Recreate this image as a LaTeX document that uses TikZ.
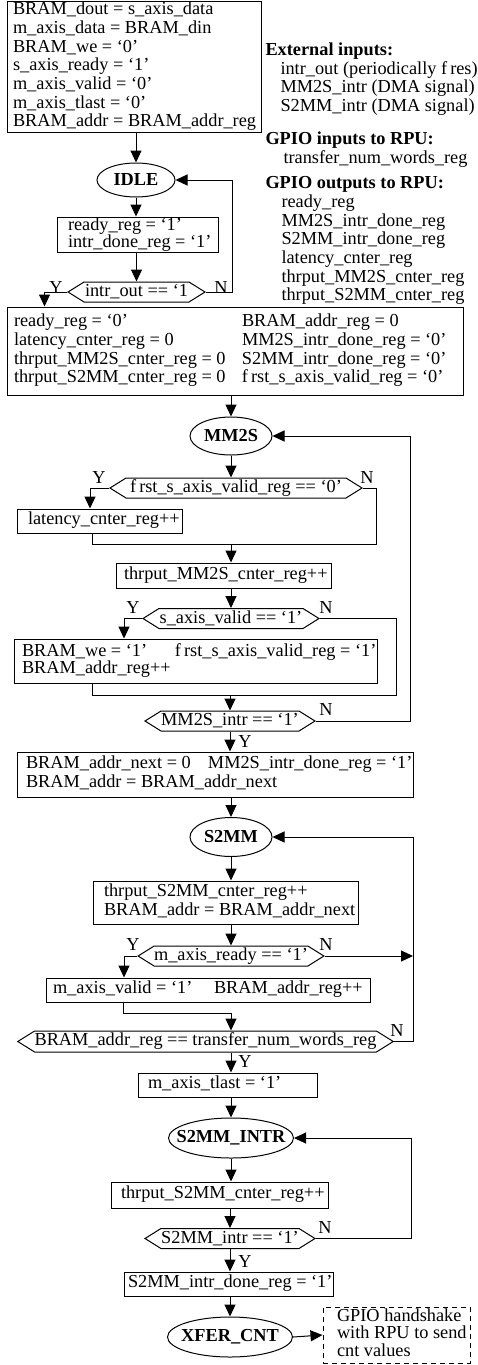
\documentclass[tikz,border=0pt]{standalone}
\usepackage{fontspec}
\setmainfont{Liberation Serif}
\usepackage{tikz}
\usetikzlibrary{arrows.meta,shapes.geometric,shapes.symbols}

\newcommand{\boxlines}[2]{\makebox[#1][l]{\begin{tabular}{@{}l@{}}#2\end{tabular}}}

\begin{document}
\begin{tikzpicture}[x=1pt,y=-1pt,line width=1pt,
  font=\fontsize{18.3}{18.7}\selectfont,
  sbox/.style={draw,rectangle,inner ysep=0pt},
  stbox/.style={draw,ellipse,inner sep=0pt,font=\fontsize{18.3}{18.7}\selectfont\bfseries},
  cond/.style={draw,signal,signal to=west and east,signal pointer angle=64,inner xsep=0pt,inner ysep=0pt,minimum height=20pt},
  arr/.style={-{Triangle[width=11pt,length=12pt]}},
  lbl/.style={anchor=base,inner sep=0pt}]
\useasboundingbox (0,0) rectangle (478,1365);

%%Init and IDLE
\node[sbox,inner xsep=6pt,minimum height=130pt] (init) at (134,67) {\boxlines{242pt}{BRAM\_dout = s\_axis\_data\\ m\_axis\_data = BRAM\_din\\ BRAM\_we = `0'\\ s\_axis\_ready = `1'\\ m\_axis\_valid = `0'\\ m\_axis\_tlast = `0'\\ BRAM\_addr = BRAM\_addr\_reg}};
\node[stbox,minimum width=78pt,minimum height=34pt] (idle) at (136,180) {\makebox[0pt]{IDLE}};
\node[sbox,inner xsep=11pt,minimum height=32pt] (ready) at (137.5,235) {\boxlines{139pt}{ready\_reg = `1'\\[-1.5pt] intr\_done\_reg = `1'}};
\node[cond,minimum width=137pt] (intr) at (136.5,292) {intr\_out == `1};

%%Signals
\node[anchor=north west,inner sep=0pt] (legend) at (265,42) {\begin{tabular}{@{}l@{}}
\textbf{External inputs:}\\
\hspace{15pt}intr\_out (periodically f\,res)\\
\hspace{15pt}MM2S\_intr (DMA signal)\\
\hspace{15pt}S2MM\_intr (DMA signal)\\[14.5pt]
\textbf{GPIO inputs to RPU:}\\
\hspace{18pt}transfer\_num\_words\_reg\\[6.5pt]
\textbf{GPIO outputs to RPU:}\\
\hspace{16pt}ready\_reg\\
\hspace{16pt}MM2S\_intr\_done\_reg\\
\hspace{16pt}S2MM\_intr\_done\_reg\\
\hspace{16pt}latency\_cnter\_reg\\
\hspace{16pt}thrput\_MM2S\_cnter\_reg\\
\hspace{16pt}thrput\_S2MM\_cnter\_reg
\end{tabular}};

%%MM2S
\node[sbox,inner xsep=7pt,minimum height=88pt] (reset) at (235,351) {\boxlines{442pt}{\makebox[228pt][l]{ready\_reg = `0'}BRAM\_addr\_reg = 0\\ \makebox[228pt][l]{latency\_cnter\_reg = 0}MM2S\_intr\_done\_reg = `0'\\ \makebox[228pt][l]{thrput\_MM2S\_cnter\_reg = 0}S2MM\_intr\_done\_reg = `0'\\ \makebox[228pt][l]{thrput\_S2MM\_cnter\_reg = 0}f\,rst\_s\_axis\_valid\_reg = `0'}};
\node[stbox,minimum width=82pt,minimum height=38pt] (mm2s) at (231,436) {\makebox[0pt]{MM2S}};
\node[cond,minimum width=252pt] (frst) at (236,488) {f\,rst\_s\_axis\_valid\_reg == `0'};
\node[sbox,inner xsep=11pt,minimum height=24pt] (lat) at (99.5,521) {\boxlines{143pt}{latency\_cnter\_reg++}};
\node[sbox,inner xsep=8pt,minimum height=25pt] (tm2s) at (223.5,575.5) {\boxlines{199pt}{thrput\_MM2S\_cnter\_reg++}};
\node[cond,minimum width=176pt] (saxis) at (231,618.5) {s\_axis\_valid == `1'};
\node[sbox,inner xsep=8pt,minimum height=44pt] (we) at (195.5,661) {\boxlines{347pt}{\makebox[153pt][l]{BRAM\_we = `1'}f\,rst\_s\_axis\_valid\_reg = `1'\\[-1.5pt] BRAM\_addr\_reg++}};
\node[cond,minimum width=170pt] (mm2sintr) at (230,721) {MM2S\_intr == `1'};
\node[sbox,inner xsep=9pt,minimum height=45pt] (addrnext) at (215,774.5) {\boxlines{378pt}{\makebox[182pt][l]{BRAM\_addr\_next = 0}MM2S\_intr\_done\_reg = `1'\\ BRAM\_addr = BRAM\_addr\_next}};

%%S2MM
\node[stbox,minimum width=82pt,minimum height=39pt] (s2mm) at (231,837) {\makebox[0pt]{S2MM}};
\node[sbox,inner xsep=11pt,minimum height=43pt] (ts2mm) at (225.5,902.5) {\boxlines{243pt}{thrput\_S2MM\_cnter\_reg++\\ BRAM\_addr = BRAM\_addr\_next}};
\node[cond,minimum width=176pt] (mready) at (231,956) {m\_axis\_ready == `1'};
\node[sbox,inner xsep=7pt,minimum height=24pt] (valid) at (208,990) {\boxlines{310pt}{\makebox[161pt][l]{m\_axis\_valid = `1'}BRAM\_addr\_reg++}};
\node[cond,minimum width=365pt,minimum height=21pt] (addreq) at (205.5,1041.5) {BRAM\_addr\_reg == transfer\_num\_words\_reg};
\node[sbox,inner xsep=10pt,minimum height=24pt] (tlast) at (227.5,1085) {\boxlines{159pt}{m\_axis\_tlast = `1'}};

%%S2MM_INTR and XFER_CNT
\node[stbox,minimum width=125pt,minimum height=40pt] (s2mmintr) at (231,1138) {\makebox[0pt]{S2MM\_INTR}};
\node[sbox,inner xsep=10pt,minimum height=26pt] (ts2mm2) at (219.5,1195) {\boxlines{197pt}{thrput\_S2MM\_cnter\_reg++}};
\node[cond,minimum width=170pt] (s2intr) at (230,1238.5) {S2MM\_intr == `1'};
\node[sbox,inner xsep=4pt,minimum height=24pt] (done) at (228.5,1284) {\boxlines{201pt}{S2MM\_intr\_done\_reg = `1'}};
\node[stbox,minimum width=125pt,minimum height=40pt] (xfer) at (230,1337) {\makebox[0pt]{XFER\_CNT}};
\node[sbox,dash pattern=on 5pt off 4pt,inner xsep=7pt,minimum height=56pt] (note) at (396.5,1335) {\makebox[133pt][l]{\hspace{7pt}\begin{tabular}{@{}l@{}}GPIO handshake\\[-1.2pt] with RPU to send\\[-1.2pt] cnt values\end{tabular}}};

%%Y/N
\node[lbl] (y1) at (56,293) {Y};
\node[lbl] (n1) at (221,293) {N};
\node[lbl] (y2) at (99,483) {Y};
\node[lbl] (n2) at (367,483) {N};
\node[lbl] (y3) at (133,613) {Y};
\node[lbl] (n3) at (326,613) {N};
\node[lbl] (n4) at (326,715) {N};
\node[lbl] (y4) at (245,747) {Y};
\node[lbl] (y5) at (133,950) {Y};
\node[lbl] (n5) at (326,950) {N};
\node[lbl] (n6) at (397,1036) {N};
\node[lbl] (y6) at (245,1067) {Y};
\node[lbl] (n7) at (325,1233) {N};
\node[lbl] (y7) at (245,1267) {Y};

%%Joins
\coordinate (j1) at (231,544);
\coordinate (j2) at (230,695);
\coordinate (j3) at (231,1013);
\coordinate (s2back) at (413,1041.5);

%%Arrows
\draw[arr] (init.south -| idle.north) -- (idle.north);
\draw[arr] (idle.south) -- (idle.south |- ready.north);
\draw[arr] (ready.south -| intr.north) -- (intr.north);
\draw[arr] (intr.east) -- ++(27,0) |- (idle.east);
\draw[arr] (intr.west) -| ([xshift=38pt]reset.north west);
\draw[arr] (reset.south -| mm2s.north) -- (mm2s.north);
\draw[arr] (mm2s.south) -- (mm2s.south |- frst.north);
\draw[arr] (frst.west) -| ([xshift=-9.5pt]lat.north);
\draw (frst.east) -- ++(14,0) |- (j1);
\draw ([xshift=-7.5pt]lat.south) |- (j1);
\draw[arr] (j1) -- (j1 |- tm2s.north);
\draw[arr] (tm2s.south -| saxis.north) -- (saxis.north);
\draw[arr] (saxis.west) -| ([xshift=-71.5pt]we.north);
\draw (saxis.east) -- ++(77,0) |- (j2);
\draw ([xshift=-103.5pt]we.south) |- (j2);
\draw[arr] (j2) -- (j2 |- mm2sintr.north);
\draw[arr] (mm2sintr.east) -- ++(95,0) |- (mm2s.east);
\draw[arr] (mm2sintr.south) -- (mm2sintr.south |- addrnext.north);
\draw[arr] (addrnext.south -| s2mm.north) -- (s2mm.north);
\draw[arr] (s2mm.south) -- (s2mm.south |- ts2mm.north);
\draw[arr] (ts2mm.south -| mready.north) -- (mready.north);
\draw[arr] (mready.west) -| ([xshift=-84pt]valid.north);
\draw[arr] (mready.east) -- (mready.east -| s2back);
\draw[arr] ([xshift=-85pt]valid.south) |- (j3) -- (j3 |- addreq.north);
\draw[arr] (addreq.east) -- (s2back) |- (s2mm.east);
\draw[arr] (j3 |- addreq.south) -- (j3 |- tlast.north);
\draw[arr] (tlast.south -| s2mmintr.north) -- (s2mmintr.north);
\draw[arr] (s2mmintr.south) -- (s2mmintr.south |- ts2mm2.north);
\draw[arr] (ts2mm2.south -| s2intr.north) -- (s2intr.north);
\draw[arr] (s2intr.east) -- ++(96,0) |- (s2mmintr.east);
\draw[arr] (s2intr.south) -- (s2intr.south |- done.north);
\draw[arr] (done.south -| xfer.north) -- (xfer.north);
\draw[arr] (xfer.east) -- (note.west);

\end{tikzpicture}
\end{document}
